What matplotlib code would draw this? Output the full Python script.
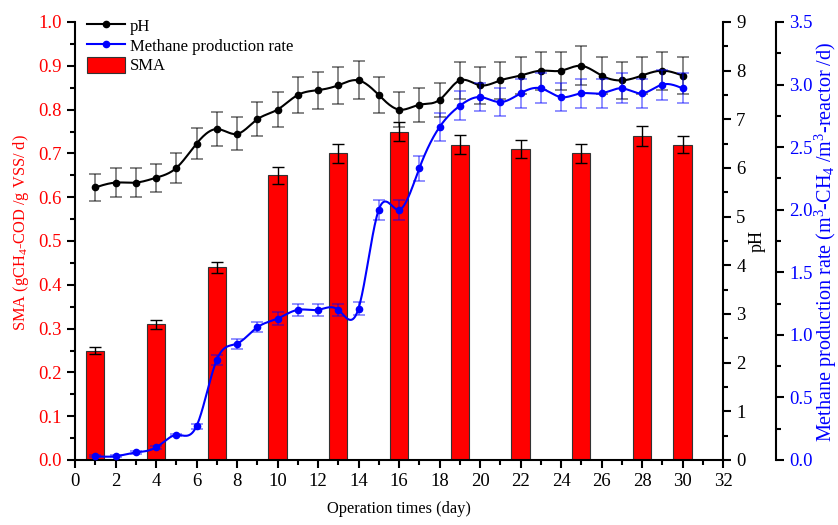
import numpy as np
import matplotlib.pyplot as plt
from matplotlib.ticker import MultipleLocator
from matplotlib.lines import Line2D
from matplotlib.patches import Patch

plt.rcParams['font.family'] = ['Liberation Serif', 'DejaVu Serif']
plt.rcParams['mathtext.fontset'] = 'custom'
plt.rcParams['mathtext.rm'] = 'Liberation Serif'
plt.rcParams['mathtext.it'] = 'Liberation Serif:italic'

# data
days = np.arange(1, 31)
ph = [5.6, 5.7, 5.7, 5.8, 6.0, 6.5, 6.8, 6.7, 7.0, 7.2,
      7.5, 7.6, 7.7, 7.8, 7.5, 7.2, 7.3, 7.4, 7.8, 7.7,
      7.8, 7.9, 8.0, 8.0, 8.1, 7.9, 7.8, 7.9, 8.0, 7.9]
ph_err = [0.28, 0.29, 0.29, 0.29, 0.30, 0.32, 0.35, 0.34, 0.35, 0.36,
          0.36, 0.38, 0.38, 0.39, 0.36, 0.36, 0.35, 0.35, 0.38, 0.38,
          0.38, 0.38, 0.39, 0.39, 0.40, 0.38, 0.38, 0.38, 0.39, 0.38]
methane = [0.03, 0.03, 0.06, 0.10, 0.20, 0.27, 0.80, 0.93, 1.06, 1.13,
           1.20, 1.20, 1.20, 1.21, 2.00, 2.00, 2.33, 2.66, 2.83, 2.90,
           2.86, 2.93, 2.97, 2.90, 2.93, 2.93, 2.97, 2.93, 3.00, 2.97]
methane_err = [0.01, 0.01, 0.01, 0.01, 0.01, 0.02, 0.04, 0.04, 0.04, 0.05,
               0.05, 0.05, 0.05, 0.05, 0.08, 0.08, 0.10, 0.11, 0.115, 0.115,
               0.115, 0.115, 0.12, 0.115, 0.115, 0.115, 0.12, 0.115, 0.12, 0.12]
sma_days = [1, 4, 7, 10, 13, 16, 19, 22, 25, 28, 30]
sma = [0.25, 0.31, 0.44, 0.65, 0.70, 0.75, 0.72, 0.71, 0.70, 0.74, 0.72]
sma_err = [0.007, 0.01, 0.012, 0.019, 0.021, 0.022, 0.021, 0.02, 0.021, 0.022, 0.02]


def spline(x, y, n=600):
    # natural cubic spline, used only to draw a smooth connecting line
    x = np.asarray(x, float)
    y = np.asarray(y, float)
    h = np.diff(x)
    m = len(x)
    A = np.zeros((m, m))
    b = np.zeros(m)
    A[0, 0] = A[-1, -1] = 1
    for i in range(1, m - 1):
        A[i, i - 1] = h[i - 1]
        A[i, i] = 2 * (h[i - 1] + h[i])
        A[i, i + 1] = h[i]
        b[i] = 6 * ((y[i + 1] - y[i]) / h[i] - (y[i] - y[i - 1]) / h[i - 1])
    M = np.linalg.solve(A, b)
    xs = np.linspace(x[0], x[-1], n)
    k = np.clip(np.searchsorted(x, xs) - 1, 0, m - 2)
    t1 = x[k + 1] - xs
    t0 = xs - x[k]
    hk = h[k]
    ys = (M[k] * t1**3 + M[k + 1] * t0**3) / (6 * hk) \
        + (y[k] / hk - M[k] * hk / 6) * t1 + (y[k + 1] / hk - M[k + 1] * hk / 6) * t0
    return xs, ys


fig = plt.figure(figsize=(8.38, 5.25), dpi=100)
ax = fig.add_axes([75 / 838, 65 / 525, 648 / 838, 438 / 525])
ax2 = ax.twinx()
ax3 = ax.twinx()
ax3.spines['right'].set_position(('axes', 701 / 648))

# SMA bars
ax.bar(sma_days, sma, width=0.9, color='#ff0000', edgecolor='#333333', linewidth=0.8,
       yerr=sma_err, error_kw=dict(ecolor='black', elinewidth=1, capsize=4, capthick=1), zorder=2)

# pH
xs, ys = spline(days, ph)
ax2.plot(xs, ys, color='black', lw=1.5, zorder=3)
ax2.errorbar(days, ph, yerr=ph_err, fmt='none', ecolor='black', alpha=0.55,
             elinewidth=1.2, capsize=4, capthick=1.2, zorder=2)
ax2.plot(days, ph, 'o', color='black', ms=4.5, zorder=4)

# methane production rate
xs, ys = spline(days, methane)
ax3.plot(xs, ys, color='#0000ff', lw=1.5, zorder=3)
ax3.errorbar(days, methane, yerr=methane_err, fmt='none', ecolor='#0000ff', alpha=0.5,
             elinewidth=1.2, capsize=4, capthick=1.2, zorder=2)
ax3.plot(days, methane, 'o', color='#0000ff', ms=4.5, zorder=4)

ax.set_xlim(0, 32)
ax.set_ylim(0, 1.0)
ax2.set_ylim(0, 9)
ax3.set_ylim(0, 3.5)

ax.xaxis.set_major_locator(MultipleLocator(2))
ax.xaxis.set_minor_locator(MultipleLocator(1))
ax.yaxis.set_major_locator(MultipleLocator(0.1))
ax.yaxis.set_minor_locator(MultipleLocator(0.05))
ax2.yaxis.set_major_locator(MultipleLocator(1))
ax2.yaxis.set_minor_locator(MultipleLocator(0.5))
ax3.yaxis.set_major_locator(MultipleLocator(0.5))
ax3.yaxis.set_minor_locator(MultipleLocator(0.25))
ax.yaxis.set_major_formatter(plt.FormatStrFormatter('%.1f'))
ax3.yaxis.set_major_formatter(plt.FormatStrFormatter('%.1f'))

for a in (ax, ax2, ax3):
    a.spines['top'].set_visible(False)
    for s in a.spines.values():
        s.set_linewidth(1.5)
    a.tick_params(which='major', direction='out', length=6, width=1.5, labelsize=13.5)
    a.tick_params(which='minor', direction='out', length=3.5, width=1.5)
ax.spines['right'].set_visible(False)
ax2.spines['left'].set_visible(False)
ax3.spines['left'].set_visible(False)
ax3.spines['bottom'].set_visible(False)
ax2.spines['bottom'].set_visible(False)

ax.tick_params(axis='y', which='both', colors='black', labelcolor='#ff0000')
ax3.tick_params(axis='y', which='both', colors='black', labelcolor='#0000ff')

ax.set_xlabel('Operation times (day)', fontsize=11.8, labelpad=8)
ax.set_ylabel('SMA (gCH$_4$-COD /g VSS/ d)', fontsize=11.8, color='#ff0000')
ax.yaxis.set_label_coords(-0.068, 0.52)
ax2.set_ylabel('pH', fontsize=13, labelpad=2)
ax3.set_ylabel('Methane production rate (m$^3$-CH$_4$ /m$^3$-reactor /d)', fontsize=14.5,
               color='#0000ff')
ax3.yaxis.set_label_coords(1.139, 0.497)

handles = [Line2D([], [], color='black', lw=1.5, marker='o', ms=4.5),
           Line2D([], [], color='#0000ff', lw=1.5, marker='o', ms=4.5),
           Patch(facecolor='#ff0000', edgecolor='#333333', linewidth=0.8)]
ax3.legend(handles, ['pH', 'Methane production rate', 'SMA'], loc='upper left',
           bbox_to_anchor=(-0.005, 1.045), frameon=False, fontsize=12, handlelength=2.3,
           handleheight=1.1, labelspacing=0.12, handletextpad=0.3)

fig.savefig('out.png', dpi=100)
